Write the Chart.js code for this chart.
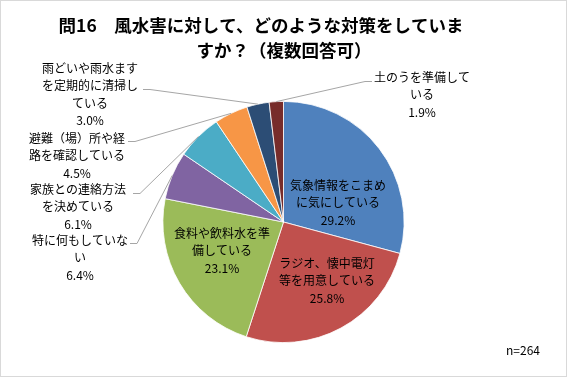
<!DOCTYPE html>
<html>
<head>
<meta charset="utf-8">
<script src="https://cdn.jsdelivr.net/npm/chart.js@4"></script>
<style>
  html, body { margin: 0; padding: 0; background: #fff; }
  #wrap { width: 568px; height: 378px; position: relative; }
</style>
</head>
<body>
<div id="wrap"><canvas id="grafico"></canvas></div>
<script>
const categorias = [
  ['気象情報をこまめ', 'に気にしている'],
  ['ラジオ、懐中電灯', '等を用意している'],
  ['食料や飲料水を準', '備している'],
  ['特に何もしていな', 'い'],
  ['家族との連絡方法', 'を決めている'],
  ['避難（場）所や経', '路を確認している'],
  ['雨どいや雨水ます', 'を定期的に清掃し', 'ている'],
  ['土のうを準備して', 'いる']
];
const porcentajes = [29.2, 25.8, 23.1, 6.4, 6.1, 4.5, 3.0, 1.9];
const colores = ['#4F81BD', '#C0504D', '#9BBB59', '#8064A2', '#4BACC6', '#F79646', '#2C4D75', '#772C2A'];
const titulo = ['問16　風水害に対して、どのような対策をしていま', 'すか？（複数回答可）'];
const nota = 'n=264';

const fuente = "'Noto Sans CJK JP', sans-serif";

// posicion de cada etiqueta: centro del texto, y si lleva linea guia
const posEtiquetas = [
  { x: 338, y: 185, guia: null },
  { x: 327, y: 263, guia: null },
  { x: 222, y: 233, guia: null },
  { x: 80, y: 240, guia: { x: 130, y: 243, lado: 1 } },
  { x: 78, y: 189, guia: { x: 133, y: 193, lado: 1 } },
  { x: 77, y: 138, guia: { x: 128, y: 141, lado: 1 } },
  { x: 90, y: 68, guia: { x: 143, y: 89, lado: 1 } },
  { x: 422, y: 77, guia: { x: 372, y: 81, lado: -1 } }
];

const etiquetasPlugin = {
  id: 'etiquetas',
  beforeDraw(chart) {
    const ctx = chart.ctx;
    ctx.save();
    ctx.fillStyle = '#fff';
    ctx.fillRect(0, 0, chart.width, chart.height);
    ctx.strokeStyle = '#d9d9d9';
    ctx.lineWidth = 1;
    ctx.strokeRect(0.5, 0.5, 566, 376);
    ctx.restore();
  },
  afterDatasetsDraw(chart) {
    const ctx = chart.ctx;
    const arcos = chart.getDatasetMeta(0).data;
    ctx.save();
    // titulo
    ctx.fillStyle = '#000';
    ctx.textAlign = 'center';
    ctx.textBaseline = 'middle';
    ctx.font = 'bold 17.5px ' + fuente;
    titulo.forEach((linea, i) => ctx.fillText(linea, 261 + (i === 0 ? 0 : 23), 25 + i * 25));

    ctx.font = '12px ' + fuente;
    arcos.forEach((arco, i) => {
      const p = posEtiquetas[i];
      if (p.guia) {
        const medio = (arco.startAngle + arco.endAngle) / 2;
        const ax = arco.x + Math.cos(medio) * arco.outerRadius;
        const ay = arco.y + Math.sin(medio) * arco.outerRadius;
        ctx.strokeStyle = '#a6a6a6';
        ctx.lineWidth = 1;
        ctx.beginPath();
        ctx.moveTo(p.guia.x, p.guia.y + 0.5);
        ctx.lineTo(p.guia.x + 7 * p.guia.lado, p.guia.y + 0.5);
        ctx.lineTo(ax, ay);
        ctx.stroke();
      }
      ctx.fillStyle = '#000';
      const lineas = categorias[i].concat([porcentajes[i].toFixed(1) + '%']);
      lineas.forEach((t, j) => ctx.fillText(t, p.x, p.y + j * 17.5));
    });

    ctx.fillText(nota, 523, 350);
    ctx.restore();
  }
};

new Chart(document.getElementById('grafico'), {
  type: 'pie',
  data: {
    labels: categorias.map((c) => c.join('')),
    datasets: [{
      data: porcentajes,
      backgroundColor: colores,
      borderColor: '#ffffff',
      borderWidth: 0.8
    }]
  },
  options: {
    responsive: true,
    maintainAspectRatio: false,
    animation: false,
    layout: {
      padding: { top: 101, bottom: 35, left: 162, right: 163 }
    },
    plugins: {
      legend: { display: false },
      title: { display: false },
      tooltip: { enabled: false }
    }
  },
  plugins: [etiquetasPlugin]
});
</script>
</body>
</html>
